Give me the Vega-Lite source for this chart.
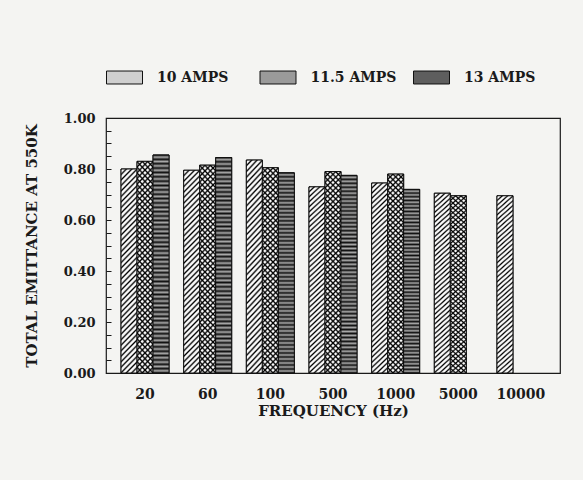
{
"$schema": "https://vega.github.io/schema/vega-lite/v6.json",
"width": 454, "height": 255,
"autosize": {"type": "none"},
"padding": {"left": 106, "top": 118, "right": 23, "bottom": 107},
"background": "#f4f4f2",
"data": {"values": [
{"frequency": "20", "current": "10 AMPS", "emittance": 0.80},
{"frequency": "20", "current": "11.5 AMPS", "emittance": 0.83},
{"frequency": "20", "current": "13 AMPS", "emittance": 0.855},
{"frequency": "60", "current": "10 AMPS", "emittance": 0.795},
{"frequency": "60", "current": "11.5 AMPS", "emittance": 0.815},
{"frequency": "60", "current": "13 AMPS", "emittance": 0.845},
{"frequency": "100", "current": "10 AMPS", "emittance": 0.835},
{"frequency": "100", "current": "11.5 AMPS", "emittance": 0.805},
{"frequency": "100", "current": "13 AMPS", "emittance": 0.785},
{"frequency": "500", "current": "10 AMPS", "emittance": 0.73},
{"frequency": "500", "current": "11.5 AMPS", "emittance": 0.79},
{"frequency": "500", "current": "13 AMPS", "emittance": 0.775},
{"frequency": "1000", "current": "10 AMPS", "emittance": 0.745},
{"frequency": "1000", "current": "11.5 AMPS", "emittance": 0.78},
{"frequency": "1000", "current": "13 AMPS", "emittance": 0.72},
{"frequency": "5000", "current": "10 AMPS", "emittance": 0.705},
{"frequency": "5000", "current": "11.5 AMPS", "emittance": 0.695},
{"frequency": "10000", "current": "10 AMPS", "emittance": 0.695}
]},
"encoding": {
"x": {"field": "frequency", "type": "nominal", "sort": ["20", "60", "100", "500", "1000", "5000", "10000"],
 "scale": {"paddingInner": 0.234, "paddingOuter": 0.24},
 "title": "FREQUENCY (Hz)",
 "axis": {"ticks": false, "labelAngle": 0, "labelPadding": 14, "labelFontSize": 14, "titleFontSize": 15, "titlePadding": 2}},
"xOffset": {"field": "current", "type": "nominal", "scale": {"domain": ["10 AMPS", "11.5 AMPS", "13 AMPS"], "paddingInner": 0, "paddingOuter": 0}},
"y": {"field": "emittance", "type": "quantitative", "scale": {"domain": [0, 1]},
 "title": "TOTAL EMITTANCE AT 550K",
 "axis": {"values": [0, 0.05, 0.1, 0.15, 0.2, 0.25, 0.3, 0.35, 0.4, 0.45, 0.5, 0.55, 0.6, 0.65, 0.7, 0.75, 0.8, 0.85, 0.9, 0.95, 1],
  "labelExpr": "round(datum.value*20) % 4 == 0 ? format(datum.value, '.2f') : ''",
  "tickSize": -5, "tickColor": "#1a1a1a", "labelPadding": 16, "labelFontSize": 13, "titleFontSize": 15, "titlePadding": 24}}
},
"layer": [
{"mark": {"type": "bar", "stroke": "#111", "strokeWidth": 1},
 "encoding": {
 "fill": {"field": "current", "type": "nominal", "sort": ["10 AMPS", "11.5 AMPS", "13 AMPS"],
  "scale": {"domain": ["10 AMPS", "11.5 AMPS", "13 AMPS"], "range": ["#cfcfcf", "#9a9a9a", "#5e5e5e"]},
  "legend": {"orient": "none", "legendX": 0, "legendY": -59, "direction": "horizontal", "columns": 3, "gridAlign": "all", "title": null,
   "symbolType": "M-1,-0.36H1V0.36H-1Z", "symbolSize": 1296, "symbolStrokeColor": "#111", "symbolStrokeWidth": 1, "symbolOpacity": 1,
   "labelFont": "DejaVu Serif", "labelFontWeight": "bold", "labelFontSize": 14, "labelColor": "#1a1a1a", "labelOffset": 14, "columnPadding": 14.5}}
 }},
{"mark": {"type": "bar", "stroke": "#111", "strokeWidth": 1},
 "encoding": {
 "fill": {"condition": [
  {"test": "datum.current === '10 AMPS'", "value": {"gradient": "linear", "x1": 0, "y1": 0, "x2": 0.086, "y2": 1.073, "stops": [
{"offset":0,"color":"#000"},{"offset":0.0085,"color":"#f8f8f8"},{"offset":0.0165,"color":"#f8f8f8"},
{"offset":0.025,"color":"#000"},{"offset":0.0335,"color":"#f8f8f8"},{"offset":0.0415,"color":"#f8f8f8"},
{"offset":0.05,"color":"#000"},{"offset":0.0585,"color":"#f8f8f8"},{"offset":0.0665,"color":"#f8f8f8"},
{"offset":0.075,"color":"#000"},{"offset":0.0835,"color":"#f8f8f8"},{"offset":0.0915,"color":"#f8f8f8"},
{"offset":0.1,"color":"#000"},{"offset":0.1085,"color":"#f8f8f8"},{"offset":0.1165,"color":"#f8f8f8"},
{"offset":0.125,"color":"#000"},{"offset":0.1335,"color":"#f8f8f8"},{"offset":0.1415,"color":"#f8f8f8"},
{"offset":0.15,"color":"#000"},{"offset":0.1585,"color":"#f8f8f8"},{"offset":0.1665,"color":"#f8f8f8"},
{"offset":0.175,"color":"#000"},{"offset":0.1835,"color":"#f8f8f8"},{"offset":0.1915,"color":"#f8f8f8"},
{"offset":0.2,"color":"#000"},{"offset":0.2085,"color":"#f8f8f8"},{"offset":0.2165,"color":"#f8f8f8"},
{"offset":0.225,"color":"#000"},{"offset":0.2335,"color":"#f8f8f8"},{"offset":0.2415,"color":"#f8f8f8"},
{"offset":0.25,"color":"#000"},{"offset":0.2585,"color":"#f8f8f8"},{"offset":0.2665,"color":"#f8f8f8"},
{"offset":0.275,"color":"#000"},{"offset":0.2835,"color":"#f8f8f8"},{"offset":0.2915,"color":"#f8f8f8"},
{"offset":0.3,"color":"#000"},{"offset":0.3085,"color":"#f8f8f8"},{"offset":0.3165,"color":"#f8f8f8"},
{"offset":0.325,"color":"#000"},{"offset":0.3335,"color":"#f8f8f8"},{"offset":0.3415,"color":"#f8f8f8"},
{"offset":0.35,"color":"#000"},{"offset":0.3585,"color":"#f8f8f8"},{"offset":0.3665,"color":"#f8f8f8"},
{"offset":0.375,"color":"#000"},{"offset":0.3835,"color":"#f8f8f8"},{"offset":0.3915,"color":"#f8f8f8"},
{"offset":0.4,"color":"#000"},{"offset":0.4085,"color":"#f8f8f8"},{"offset":0.4165,"color":"#f8f8f8"},
{"offset":0.425,"color":"#000"},{"offset":0.4335,"color":"#f8f8f8"},{"offset":0.4415,"color":"#f8f8f8"},
{"offset":0.45,"color":"#000"},{"offset":0.4585,"color":"#f8f8f8"},{"offset":0.4665,"color":"#f8f8f8"},
{"offset":0.475,"color":"#000"},{"offset":0.4835,"color":"#f8f8f8"},{"offset":0.4915,"color":"#f8f8f8"},
{"offset":0.5,"color":"#000"},{"offset":0.5085,"color":"#f8f8f8"},{"offset":0.5165,"color":"#f8f8f8"},
{"offset":0.525,"color":"#000"},{"offset":0.5335,"color":"#f8f8f8"},{"offset":0.5415,"color":"#f8f8f8"},
{"offset":0.55,"color":"#000"},{"offset":0.5585,"color":"#f8f8f8"},{"offset":0.5665,"color":"#f8f8f8"},
{"offset":0.575,"color":"#000"},{"offset":0.5835,"color":"#f8f8f8"},{"offset":0.5915,"color":"#f8f8f8"},
{"offset":0.6,"color":"#000"},{"offset":0.6085,"color":"#f8f8f8"},{"offset":0.6165,"color":"#f8f8f8"},
{"offset":0.625,"color":"#000"},{"offset":0.6335,"color":"#f8f8f8"},{"offset":0.6415,"color":"#f8f8f8"},
{"offset":0.65,"color":"#000"},{"offset":0.6585,"color":"#f8f8f8"},{"offset":0.6665,"color":"#f8f8f8"},
{"offset":0.675,"color":"#000"},{"offset":0.6835,"color":"#f8f8f8"},{"offset":0.6915,"color":"#f8f8f8"},
{"offset":0.7,"color":"#000"},{"offset":0.7085,"color":"#f8f8f8"},{"offset":0.7165,"color":"#f8f8f8"},
{"offset":0.725,"color":"#000"},{"offset":0.7335,"color":"#f8f8f8"},{"offset":0.7415,"color":"#f8f8f8"},
{"offset":0.75,"color":"#000"},{"offset":0.7585,"color":"#f8f8f8"},{"offset":0.7665,"color":"#f8f8f8"},
{"offset":0.775,"color":"#000"},{"offset":0.7835,"color":"#f8f8f8"},{"offset":0.7915,"color":"#f8f8f8"},
{"offset":0.8,"color":"#000"},{"offset":0.8085,"color":"#f8f8f8"},{"offset":0.8165,"color":"#f8f8f8"},
{"offset":0.825,"color":"#000"},{"offset":0.8335,"color":"#f8f8f8"},{"offset":0.8415,"color":"#f8f8f8"},
{"offset":0.85,"color":"#000"},{"offset":0.8585,"color":"#f8f8f8"},{"offset":0.8665,"color":"#f8f8f8"},
{"offset":0.875,"color":"#000"},{"offset":0.8835,"color":"#f8f8f8"},{"offset":0.8915,"color":"#f8f8f8"},
{"offset":0.9,"color":"#000"},{"offset":0.9085,"color":"#f8f8f8"},{"offset":0.9165,"color":"#f8f8f8"},
{"offset":0.925,"color":"#000"},{"offset":0.9335,"color":"#f8f8f8"},{"offset":0.9415,"color":"#f8f8f8"},
{"offset":0.95,"color":"#000"},{"offset":0.9585,"color":"#f8f8f8"},{"offset":0.9665,"color":"#f8f8f8"},
{"offset":0.975,"color":"#000"},{"offset":0.9835,"color":"#f8f8f8"},{"offset":0.9915,"color":"#f8f8f8"},
{"offset":1,"color":"#000"}]}},
  {"test": "datum.current === '11.5 AMPS'", "value": {"gradient": "linear", "x1": 0, "y1": 1, "x2": 0.086, "y2": -0.073, "stops": [
{"offset":0,"color":"#000"},{"offset":0.0085,"color":"#f8f8f8"},{"offset":0.0165,"color":"#f8f8f8"},
{"offset":0.025,"color":"#000"},{"offset":0.0335,"color":"#f8f8f8"},{"offset":0.0415,"color":"#f8f8f8"},
{"offset":0.05,"color":"#000"},{"offset":0.0585,"color":"#f8f8f8"},{"offset":0.0665,"color":"#f8f8f8"},
{"offset":0.075,"color":"#000"},{"offset":0.0835,"color":"#f8f8f8"},{"offset":0.0915,"color":"#f8f8f8"},
{"offset":0.1,"color":"#000"},{"offset":0.1085,"color":"#f8f8f8"},{"offset":0.1165,"color":"#f8f8f8"},
{"offset":0.125,"color":"#000"},{"offset":0.1335,"color":"#f8f8f8"},{"offset":0.1415,"color":"#f8f8f8"},
{"offset":0.15,"color":"#000"},{"offset":0.1585,"color":"#f8f8f8"},{"offset":0.1665,"color":"#f8f8f8"},
{"offset":0.175,"color":"#000"},{"offset":0.1835,"color":"#f8f8f8"},{"offset":0.1915,"color":"#f8f8f8"},
{"offset":0.2,"color":"#000"},{"offset":0.2085,"color":"#f8f8f8"},{"offset":0.2165,"color":"#f8f8f8"},
{"offset":0.225,"color":"#000"},{"offset":0.2335,"color":"#f8f8f8"},{"offset":0.2415,"color":"#f8f8f8"},
{"offset":0.25,"color":"#000"},{"offset":0.2585,"color":"#f8f8f8"},{"offset":0.2665,"color":"#f8f8f8"},
{"offset":0.275,"color":"#000"},{"offset":0.2835,"color":"#f8f8f8"},{"offset":0.2915,"color":"#f8f8f8"},
{"offset":0.3,"color":"#000"},{"offset":0.3085,"color":"#f8f8f8"},{"offset":0.3165,"color":"#f8f8f8"},
{"offset":0.325,"color":"#000"},{"offset":0.3335,"color":"#f8f8f8"},{"offset":0.3415,"color":"#f8f8f8"},
{"offset":0.35,"color":"#000"},{"offset":0.3585,"color":"#f8f8f8"},{"offset":0.3665,"color":"#f8f8f8"},
{"offset":0.375,"color":"#000"},{"offset":0.3835,"color":"#f8f8f8"},{"offset":0.3915,"color":"#f8f8f8"},
{"offset":0.4,"color":"#000"},{"offset":0.4085,"color":"#f8f8f8"},{"offset":0.4165,"color":"#f8f8f8"},
{"offset":0.425,"color":"#000"},{"offset":0.4335,"color":"#f8f8f8"},{"offset":0.4415,"color":"#f8f8f8"},
{"offset":0.45,"color":"#000"},{"offset":0.4585,"color":"#f8f8f8"},{"offset":0.4665,"color":"#f8f8f8"},
{"offset":0.475,"color":"#000"},{"offset":0.4835,"color":"#f8f8f8"},{"offset":0.4915,"color":"#f8f8f8"},
{"offset":0.5,"color":"#000"},{"offset":0.5085,"color":"#f8f8f8"},{"offset":0.5165,"color":"#f8f8f8"},
{"offset":0.525,"color":"#000"},{"offset":0.5335,"color":"#f8f8f8"},{"offset":0.5415,"color":"#f8f8f8"},
{"offset":0.55,"color":"#000"},{"offset":0.5585,"color":"#f8f8f8"},{"offset":0.5665,"color":"#f8f8f8"},
{"offset":0.575,"color":"#000"},{"offset":0.5835,"color":"#f8f8f8"},{"offset":0.5915,"color":"#f8f8f8"},
{"offset":0.6,"color":"#000"},{"offset":0.6085,"color":"#f8f8f8"},{"offset":0.6165,"color":"#f8f8f8"},
{"offset":0.625,"color":"#000"},{"offset":0.6335,"color":"#f8f8f8"},{"offset":0.6415,"color":"#f8f8f8"},
{"offset":0.65,"color":"#000"},{"offset":0.6585,"color":"#f8f8f8"},{"offset":0.6665,"color":"#f8f8f8"},
{"offset":0.675,"color":"#000"},{"offset":0.6835,"color":"#f8f8f8"},{"offset":0.6915,"color":"#f8f8f8"},
{"offset":0.7,"color":"#000"},{"offset":0.7085,"color":"#f8f8f8"},{"offset":0.7165,"color":"#f8f8f8"},
{"offset":0.725,"color":"#000"},{"offset":0.7335,"color":"#f8f8f8"},{"offset":0.7415,"color":"#f8f8f8"},
{"offset":0.75,"color":"#000"},{"offset":0.7585,"color":"#f8f8f8"},{"offset":0.7665,"color":"#f8f8f8"},
{"offset":0.775,"color":"#000"},{"offset":0.7835,"color":"#f8f8f8"},{"offset":0.7915,"color":"#f8f8f8"},
{"offset":0.8,"color":"#000"},{"offset":0.8085,"color":"#f8f8f8"},{"offset":0.8165,"color":"#f8f8f8"},
{"offset":0.825,"color":"#000"},{"offset":0.8335,"color":"#f8f8f8"},{"offset":0.8415,"color":"#f8f8f8"},
{"offset":0.85,"color":"#000"},{"offset":0.8585,"color":"#f8f8f8"},{"offset":0.8665,"color":"#f8f8f8"},
{"offset":0.875,"color":"#000"},{"offset":0.8835,"color":"#f8f8f8"},{"offset":0.8915,"color":"#f8f8f8"},
{"offset":0.9,"color":"#000"},{"offset":0.9085,"color":"#f8f8f8"},{"offset":0.9165,"color":"#f8f8f8"},
{"offset":0.925,"color":"#000"},{"offset":0.9335,"color":"#f8f8f8"},{"offset":0.9415,"color":"#f8f8f8"},
{"offset":0.95,"color":"#000"},{"offset":0.9585,"color":"#f8f8f8"},{"offset":0.9665,"color":"#f8f8f8"},
{"offset":0.975,"color":"#000"},{"offset":0.9835,"color":"#f8f8f8"},{"offset":0.9915,"color":"#f8f8f8"},
{"offset":1,"color":"#000"}]}}],
  "value": {"gradient": "linear", "x1": 0, "y1": 0, "x2": 0, "y2": 1, "stops": [
{"offset":0,"color":"#111"},{"offset":0.01,"color":"#a8a8a8"},{"offset":0.02,"color":"#111"},{"offset":0.03,"color":"#a8a8a8"},{"offset":0.04,"color":"#111"},
{"offset":0.05,"color":"#a8a8a8"},{"offset":0.06,"color":"#111"},{"offset":0.07,"color":"#a8a8a8"},{"offset":0.08,"color":"#111"},{"offset":0.09,"color":"#a8a8a8"},
{"offset":0.1,"color":"#111"},{"offset":0.11,"color":"#a8a8a8"},{"offset":0.12,"color":"#111"},{"offset":0.13,"color":"#a8a8a8"},{"offset":0.14,"color":"#111"},
{"offset":0.15,"color":"#a8a8a8"},{"offset":0.16,"color":"#111"},{"offset":0.17,"color":"#a8a8a8"},{"offset":0.18,"color":"#111"},{"offset":0.19,"color":"#a8a8a8"},
{"offset":0.2,"color":"#111"},{"offset":0.21,"color":"#a8a8a8"},{"offset":0.22,"color":"#111"},{"offset":0.23,"color":"#a8a8a8"},{"offset":0.24,"color":"#111"},
{"offset":0.25,"color":"#a8a8a8"},{"offset":0.26,"color":"#111"},{"offset":0.27,"color":"#a8a8a8"},{"offset":0.28,"color":"#111"},{"offset":0.29,"color":"#a8a8a8"},
{"offset":0.3,"color":"#111"},{"offset":0.31,"color":"#a8a8a8"},{"offset":0.32,"color":"#111"},{"offset":0.33,"color":"#a8a8a8"},{"offset":0.34,"color":"#111"},
{"offset":0.35,"color":"#a8a8a8"},{"offset":0.36,"color":"#111"},{"offset":0.37,"color":"#a8a8a8"},{"offset":0.38,"color":"#111"},{"offset":0.39,"color":"#a8a8a8"},
{"offset":0.4,"color":"#111"},{"offset":0.41,"color":"#a8a8a8"},{"offset":0.42,"color":"#111"},{"offset":0.43,"color":"#a8a8a8"},{"offset":0.44,"color":"#111"},
{"offset":0.45,"color":"#a8a8a8"},{"offset":0.46,"color":"#111"},{"offset":0.47,"color":"#a8a8a8"},{"offset":0.48,"color":"#111"},{"offset":0.49,"color":"#a8a8a8"},
{"offset":0.5,"color":"#111"},{"offset":0.51,"color":"#a8a8a8"},{"offset":0.52,"color":"#111"},{"offset":0.53,"color":"#a8a8a8"},{"offset":0.54,"color":"#111"},
{"offset":0.55,"color":"#a8a8a8"},{"offset":0.56,"color":"#111"},{"offset":0.57,"color":"#a8a8a8"},{"offset":0.58,"color":"#111"},{"offset":0.59,"color":"#a8a8a8"},
{"offset":0.6,"color":"#111"},{"offset":0.61,"color":"#a8a8a8"},{"offset":0.62,"color":"#111"},{"offset":0.63,"color":"#a8a8a8"},{"offset":0.64,"color":"#111"},
{"offset":0.65,"color":"#a8a8a8"},{"offset":0.66,"color":"#111"},{"offset":0.67,"color":"#a8a8a8"},{"offset":0.68,"color":"#111"},{"offset":0.69,"color":"#a8a8a8"},
{"offset":0.7,"color":"#111"},{"offset":0.71,"color":"#a8a8a8"},{"offset":0.72,"color":"#111"},{"offset":0.73,"color":"#a8a8a8"},{"offset":0.74,"color":"#111"},
{"offset":0.75,"color":"#a8a8a8"},{"offset":0.76,"color":"#111"},{"offset":0.77,"color":"#a8a8a8"},{"offset":0.78,"color":"#111"},{"offset":0.79,"color":"#a8a8a8"},
{"offset":0.8,"color":"#111"},{"offset":0.81,"color":"#a8a8a8"},{"offset":0.82,"color":"#111"},{"offset":0.83,"color":"#a8a8a8"},{"offset":0.84,"color":"#111"},
{"offset":0.85,"color":"#a8a8a8"},{"offset":0.86,"color":"#111"},{"offset":0.87,"color":"#a8a8a8"},{"offset":0.88,"color":"#111"},{"offset":0.89,"color":"#a8a8a8"},
{"offset":0.9,"color":"#111"},{"offset":0.91,"color":"#a8a8a8"},{"offset":0.92,"color":"#111"},{"offset":0.93,"color":"#a8a8a8"},{"offset":0.94,"color":"#111"},
{"offset":0.95,"color":"#a8a8a8"},{"offset":0.96,"color":"#111"},{"offset":0.97,"color":"#a8a8a8"},{"offset":0.98,"color":"#111"},{"offset":0.99,"color":"#a8a8a8"},
{"offset":1,"color":"#111"}]}}
 }},
{"transform": [{"filter": "datum.current == '11.5 AMPS'"}],
 "mark": {"type": "bar", "strokeWidth": 0, "fill": {"gradient": "linear", "x1": 0, "y1": 0, "x2": 0.086, "y2": 1.073, "stops": [
{"offset":0,"color":"#000"},{"offset":0.0085,"color":"rgba(0,0,0,0)"},{"offset":0.0165,"color":"rgba(0,0,0,0)"},
{"offset":0.025,"color":"#000"},{"offset":0.0335,"color":"rgba(0,0,0,0)"},{"offset":0.0415,"color":"rgba(0,0,0,0)"},
{"offset":0.05,"color":"#000"},{"offset":0.0585,"color":"rgba(0,0,0,0)"},{"offset":0.0665,"color":"rgba(0,0,0,0)"},
{"offset":0.075,"color":"#000"},{"offset":0.0835,"color":"rgba(0,0,0,0)"},{"offset":0.0915,"color":"rgba(0,0,0,0)"},
{"offset":0.1,"color":"#000"},{"offset":0.1085,"color":"rgba(0,0,0,0)"},{"offset":0.1165,"color":"rgba(0,0,0,0)"},
{"offset":0.125,"color":"#000"},{"offset":0.1335,"color":"rgba(0,0,0,0)"},{"offset":0.1415,"color":"rgba(0,0,0,0)"},
{"offset":0.15,"color":"#000"},{"offset":0.1585,"color":"rgba(0,0,0,0)"},{"offset":0.1665,"color":"rgba(0,0,0,0)"},
{"offset":0.175,"color":"#000"},{"offset":0.1835,"color":"rgba(0,0,0,0)"},{"offset":0.1915,"color":"rgba(0,0,0,0)"},
{"offset":0.2,"color":"#000"},{"offset":0.2085,"color":"rgba(0,0,0,0)"},{"offset":0.2165,"color":"rgba(0,0,0,0)"},
{"offset":0.225,"color":"#000"},{"offset":0.2335,"color":"rgba(0,0,0,0)"},{"offset":0.2415,"color":"rgba(0,0,0,0)"},
{"offset":0.25,"color":"#000"},{"offset":0.2585,"color":"rgba(0,0,0,0)"},{"offset":0.2665,"color":"rgba(0,0,0,0)"},
{"offset":0.275,"color":"#000"},{"offset":0.2835,"color":"rgba(0,0,0,0)"},{"offset":0.2915,"color":"rgba(0,0,0,0)"},
{"offset":0.3,"color":"#000"},{"offset":0.3085,"color":"rgba(0,0,0,0)"},{"offset":0.3165,"color":"rgba(0,0,0,0)"},
{"offset":0.325,"color":"#000"},{"offset":0.3335,"color":"rgba(0,0,0,0)"},{"offset":0.3415,"color":"rgba(0,0,0,0)"},
{"offset":0.35,"color":"#000"},{"offset":0.3585,"color":"rgba(0,0,0,0)"},{"offset":0.3665,"color":"rgba(0,0,0,0)"},
{"offset":0.375,"color":"#000"},{"offset":0.3835,"color":"rgba(0,0,0,0)"},{"offset":0.3915,"color":"rgba(0,0,0,0)"},
{"offset":0.4,"color":"#000"},{"offset":0.4085,"color":"rgba(0,0,0,0)"},{"offset":0.4165,"color":"rgba(0,0,0,0)"},
{"offset":0.425,"color":"#000"},{"offset":0.4335,"color":"rgba(0,0,0,0)"},{"offset":0.4415,"color":"rgba(0,0,0,0)"},
{"offset":0.45,"color":"#000"},{"offset":0.4585,"color":"rgba(0,0,0,0)"},{"offset":0.4665,"color":"rgba(0,0,0,0)"},
{"offset":0.475,"color":"#000"},{"offset":0.4835,"color":"rgba(0,0,0,0)"},{"offset":0.4915,"color":"rgba(0,0,0,0)"},
{"offset":0.5,"color":"#000"},{"offset":0.5085,"color":"rgba(0,0,0,0)"},{"offset":0.5165,"color":"rgba(0,0,0,0)"},
{"offset":0.525,"color":"#000"},{"offset":0.5335,"color":"rgba(0,0,0,0)"},{"offset":0.5415,"color":"rgba(0,0,0,0)"},
{"offset":0.55,"color":"#000"},{"offset":0.5585,"color":"rgba(0,0,0,0)"},{"offset":0.5665,"color":"rgba(0,0,0,0)"},
{"offset":0.575,"color":"#000"},{"offset":0.5835,"color":"rgba(0,0,0,0)"},{"offset":0.5915,"color":"rgba(0,0,0,0)"},
{"offset":0.6,"color":"#000"},{"offset":0.6085,"color":"rgba(0,0,0,0)"},{"offset":0.6165,"color":"rgba(0,0,0,0)"},
{"offset":0.625,"color":"#000"},{"offset":0.6335,"color":"rgba(0,0,0,0)"},{"offset":0.6415,"color":"rgba(0,0,0,0)"},
{"offset":0.65,"color":"#000"},{"offset":0.6585,"color":"rgba(0,0,0,0)"},{"offset":0.6665,"color":"rgba(0,0,0,0)"},
{"offset":0.675,"color":"#000"},{"offset":0.6835,"color":"rgba(0,0,0,0)"},{"offset":0.6915,"color":"rgba(0,0,0,0)"},
{"offset":0.7,"color":"#000"},{"offset":0.7085,"color":"rgba(0,0,0,0)"},{"offset":0.7165,"color":"rgba(0,0,0,0)"},
{"offset":0.725,"color":"#000"},{"offset":0.7335,"color":"rgba(0,0,0,0)"},{"offset":0.7415,"color":"rgba(0,0,0,0)"},
{"offset":0.75,"color":"#000"},{"offset":0.7585,"color":"rgba(0,0,0,0)"},{"offset":0.7665,"color":"rgba(0,0,0,0)"},
{"offset":0.775,"color":"#000"},{"offset":0.7835,"color":"rgba(0,0,0,0)"},{"offset":0.7915,"color":"rgba(0,0,0,0)"},
{"offset":0.8,"color":"#000"},{"offset":0.8085,"color":"rgba(0,0,0,0)"},{"offset":0.8165,"color":"rgba(0,0,0,0)"},
{"offset":0.825,"color":"#000"},{"offset":0.8335,"color":"rgba(0,0,0,0)"},{"offset":0.8415,"color":"rgba(0,0,0,0)"},
{"offset":0.85,"color":"#000"},{"offset":0.8585,"color":"rgba(0,0,0,0)"},{"offset":0.8665,"color":"rgba(0,0,0,0)"},
{"offset":0.875,"color":"#000"},{"offset":0.8835,"color":"rgba(0,0,0,0)"},{"offset":0.8915,"color":"rgba(0,0,0,0)"},
{"offset":0.9,"color":"#000"},{"offset":0.9085,"color":"rgba(0,0,0,0)"},{"offset":0.9165,"color":"rgba(0,0,0,0)"},
{"offset":0.925,"color":"#000"},{"offset":0.9335,"color":"rgba(0,0,0,0)"},{"offset":0.9415,"color":"rgba(0,0,0,0)"},
{"offset":0.95,"color":"#000"},{"offset":0.9585,"color":"rgba(0,0,0,0)"},{"offset":0.9665,"color":"rgba(0,0,0,0)"},
{"offset":0.975,"color":"#000"},{"offset":0.9835,"color":"rgba(0,0,0,0)"},{"offset":0.9915,"color":"rgba(0,0,0,0)"},
{"offset":1,"color":"#000"}]}}}
],
"config": {
 "font": "DejaVu Serif",
 "view": {"stroke": "#1a1a1a", "strokeWidth": 1.2},
 "axis": {"labelFont": "DejaVu Serif", "labelFontWeight": "bold", "labelColor": "#1a1a1a", "titleFont": "DejaVu Serif", "titleFontWeight": "bold", "titleColor": "#1a1a1a", "grid": false, "domain": false}
}
}
